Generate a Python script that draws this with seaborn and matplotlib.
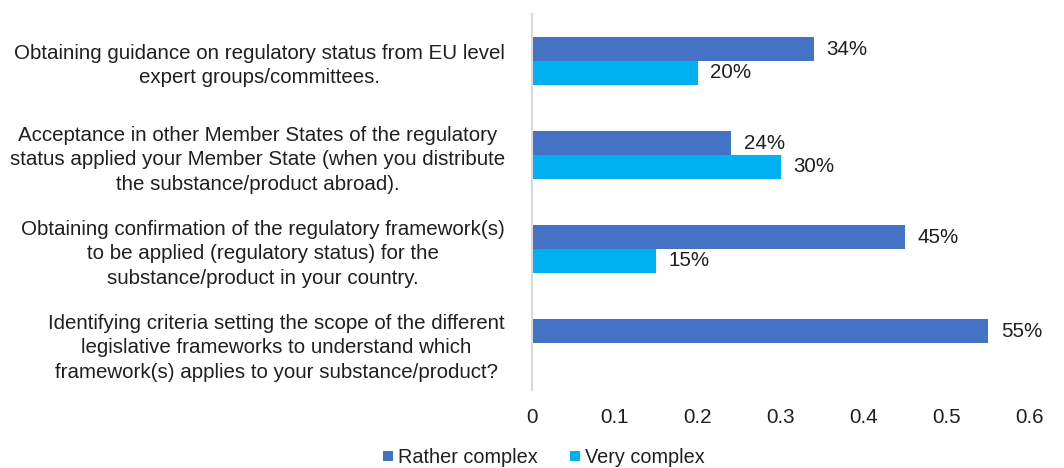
import matplotlib
matplotlib.use("Agg")
import matplotlib.pyplot as plt
from matplotlib.lines import Line2D
import seaborn as sns
import pandas as pd

sns.set_theme(style="white")
plt.rcParams["font.family"] = ["Liberation Sans", "DejaVu Sans"]

categories = [
    "Obtaining guidance on regulatory status from EU level\nexpert groups/committees.",
    "Acceptance in other Member States of the regulatory\nstatus applied your Member State (when you distribute\nthe substance/product abroad).",
    "Obtaining confirmation of the regulatory framework(s)\nto be applied (regulatory status) for the\nsubstance/product in your country.",
    "Identifying criteria setting the scope of the different\nlegislative frameworks to understand which\nframework(s) applies to your substance/product?",
]
series = ["Rather complex", "Very complex"]
rather_complex = [0.34, 0.24, 0.45, 0.55]
very_complex = [0.20, 0.30, 0.15, 0.0]
x_ticks = [0, 0.1, 0.2, 0.3, 0.4, 0.5, 0.6]
x_tick_labels = ["0", "0.1", "0.2", "0.3", "0.4", "0.5", "0.6"]
colors = {"Rather complex": "#4472C4", "Very complex": "#00B0F0"}

df = pd.DataFrame({
    "item": categories * 2,
    "level": [series[0]] * len(categories) + [series[1]] * len(categories),
    "share": rather_complex + very_complex,
})

fig = plt.figure(figsize=(10.64, 4.68), dpi=100)
ax = fig.add_axes([0.5, 0.1667, 0.468, 0.8034])

sns.barplot(data=df, y="item", x="share", hue="level", hue_order=series,
            order=categories, palette=colors, orient="h", width=0.51,
            saturation=1, ax=ax, legend=False, linewidth=0)

text_color = "#1f1f1f"
for container in ax.containers:
    vals = container.datavalues
    labels = [f"{v:.0%}" if v > 0 else "" for v in vals]
    ax.bar_label(container, labels=labels, padding=9, fontsize=14.8,
                 color=text_color)

ax.set_xlim(0, 0.6)
ax.set_ylim(3.5, -0.5)
ax.set_xticks(x_ticks)
ax.set_xticklabels(x_tick_labels, fontsize=14.8, color=text_color)
ax.set_xlabel("")
ax.set_ylabel("")
ax.tick_params(axis="x", length=0, pad=13)
ax.tick_params(axis="y", length=0, pad=19.5)
for lab in ax.get_yticklabels():
    lab.set_fontsize(14.8)
    lab.set_color(text_color)
    lab.set_multialignment("center")
    lab.set_linespacing(1.36)

for side in ["top", "right", "bottom"]:
    ax.spines[side].set_visible(False)
ax.spines["left"].set_color("#D9D9D9")
ax.spines["left"].set_linewidth(1.5)

handles = [Line2D([], [], marker="s", linestyle="none", markersize=7,
                  markerfacecolor=colors[s], markeredgewidth=0) for s in series]
fig.legend(handles, series, loc="lower center", bbox_to_anchor=(0.508, -0.035),
           ncol=2, frameon=False, fontsize=14.3, handletextpad=-0.1,
           handlelength=1.2, columnspacing=1.3, labelcolor=text_color)

fig.savefig("out.png", dpi=100, facecolor="white")
